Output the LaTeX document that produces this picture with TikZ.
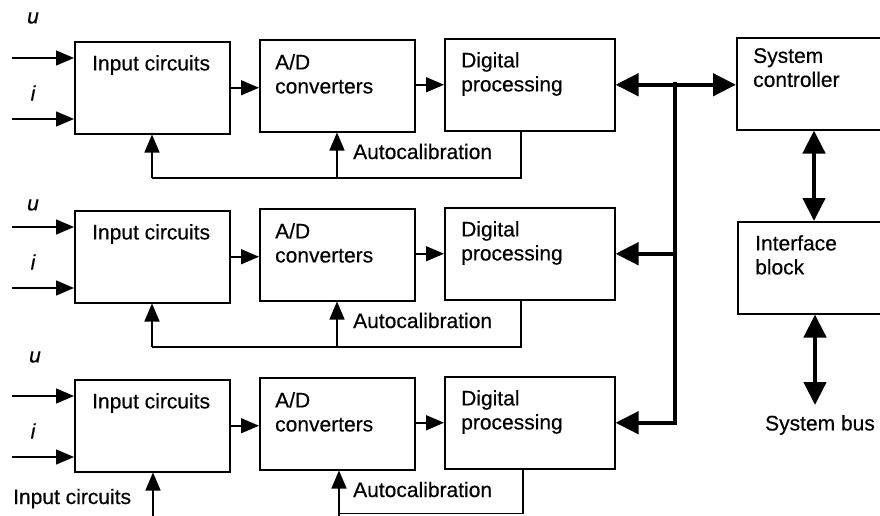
\documentclass[tikz,border=0pt]{standalone}
\usepackage{fontspec}
\setmainfont{Liberation Sans}[FakeBold=0.4]
\usetikzlibrary{arrows.meta}
\tikzset{bustip/.tip={Triangle[length=23pt,width=22pt]},
  sigtip/.tip={Triangle[length=18pt,width=15pt]}}
\begin{document}
\begin{tikzpicture}[x=1pt,y=-1pt,
  blk/.style={draw,line width=1.5pt,anchor=north west,inner sep=0,minimum width=155pt,minimum height=92pt},
  txt/.style={anchor=north west,inner sep=0,align=left,font=\fontsize{21}{24}\selectfont},
  lbl/.style={inner sep=0,font=\fontsize{21}{24}\selectfont},
  var/.style={inner sep=0,font=\fontsize{21}{24}\selectfont\itshape},
  sig/.style={line width=1.5pt,-{sigtip}},
  fb/.style={line width=1.5pt},
  bus/.style={line width=4.5pt}]
\useasboundingbox (0,0) rectangle (880,515);

\foreach \r/\dy in {1/0,2/169,3/338}{
  \node[blk] (ic\r) at (74,41+\dy) {};
  \node[blk] (ad\r) at (259,39+\dy) {};
  \node[blk,minimum width=170pt] (dp\r) at (444,38+\dy) {};
  \node[txt] (icl\r) at ([xshift=18pt,yshift=-14pt]ic\r.north west) {Input circuits};
  \node[txt] (adl\r) at ([xshift=16pt,yshift=-15pt]ad\r.north west) {A/D\\converters};
  \node[txt] (dpl\r) at ([xshift=17pt,yshift=-14pt]dp\r.north west) {Digital\\processing};
  \coordinate (iu\r) at (12,58+\dy);
  \coordinate (ii\r) at (12,119+\dy);
  \draw[sig] (iu\r) -- (iu\r -| ic\r.west);
  \draw[sig] (ii\r) -- (ii\r -| ic\r.west);
  \node[var] (il\r) at (33,93+\dy) {i};
  \draw[sig] (ic\r.east) -- (ic\r.east -| ad\r.west);
  \draw[sig] (ad\r.east |- dp\r.west) -- (dp\r.west);
  \node[lbl,anchor=base west] (acl\r) at (353,159+\dy) {Autocalibration};
}
\node[var] (ul1) at (33,18) {u};
\node[var] (ul2) at (33,205) {u};
\node[var] (ul3) at (35,357) {u};

% feedback rows 1 and 2
\foreach \r/\dy in {1/0,2/169}{
  \coordinate (f\r) at (152,178+\dy);
  \coordinate (g\r) at (337,178+\dy);
  \draw[fb] ([xshift=77pt]dp\r.south west) |- (f\r);
  \draw[sig] (f\r) -- (f\r |- ic\r.south);
  \draw[sig] (g\r) -- (g\r |- ad\r.south);
}
% feedback row 3
\coordinate (f3) at (153,516);
\coordinate (g3) at (339,513.5);
\coordinate (h3) at (339,516);
\draw[sig] (f3) -- (f3 |- ic3.south);
\draw[fb] ([xshift=79pt]dp3.south west) |- (g3);
\draw[sig] (h3) -- (h3 |- ad3.south);
\node[lbl,anchor=base west] (icin) at (13,504) {Input circuits};

% right blocks
\node[blk,minimum width=170pt] (sc) at (736,37) {};
\node[blk,minimum width=170pt] (ib) at (737,221) {};
\node[txt] (scl) at ([xshift=17pt,yshift=-11pt]sc.north west) {System\\controller};
\node[txt] (ibl) at ([xshift=18pt,yshift=-14pt]ib.north west) {Interface\\block};

% bus
\coordinate (bt) at (675,84);
\draw[bus,{bustip}-{bustip}] (dp1.east) -- (dp1.east -| sc.west);
\draw[bus,-{bustip}] ([yshift=2.25pt]bt) |- (dp3.east);
\draw[bus,-{bustip}] (bt |- dp2.east) -- (dp2.east);

\draw[bus,{bustip}-{bustip}] ([xshift=78pt]sc.south west) -- ([xshift=77pt]ib.north west);
\coordinate (sbt) at (815,405);
\draw[bus,{bustip}-{bustip}] ([xshift=78pt]ib.south west) -- (sbt);
\node[lbl] (sbl) at (820,425) {System bus};
\end{tikzpicture}
\end{document}
